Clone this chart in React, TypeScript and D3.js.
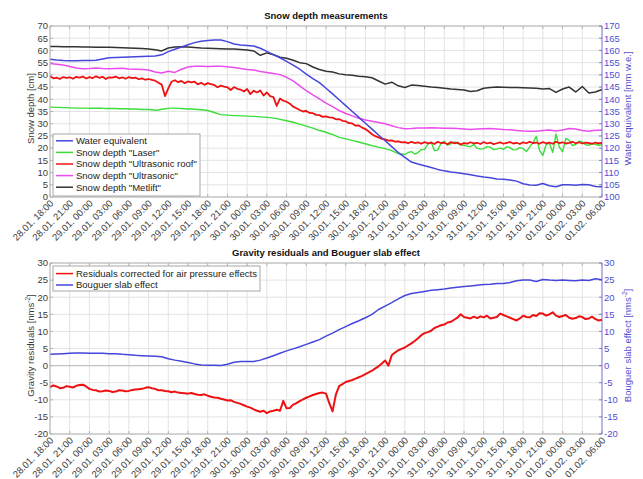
import React from 'react';
import * as d3 from 'd3';

// ---------- data ----------
const START = Date.UTC(2013, 0, 28, 18);
const END = Date.UTC(2013, 1, 1, 6);

const hoursHourly = d3.range(0, 85, 1);
const hoursHalf = d3.range(0, 169, 1).map((i) => i * 0.5);

// Water equivalent [mm w.e.] (right axis, hourly)
const waterEquivalent = [
  156.4, 156.1, 155.9, 155.8, 155.8, 155.9, 155.9, 156.0, 156.5, 157.0,
  157.1, 157.2, 157.3, 157.4, 157.5, 157.6, 157.7, 158.2, 159.5, 160.5,
  161.4, 162.3, 163.2, 163.8, 164.1, 164.3, 164.3, 163.6, 162.6, 162.2,
  162.0, 161.8, 160.9, 159.6, 158.3, 157.0, 155.5, 154.0, 152.3, 150.3,
  148.5, 146.8, 144.5, 142.2, 139.8, 137.4, 135.0, 132.6, 130.2, 127.8,
  125.4, 123.0, 120.6, 118.2, 116.2, 114.3, 113.5, 112.8, 112.1, 111.3,
  110.7, 110.2, 109.9, 109.5, 109.1, 108.6, 108.2, 107.9, 107.4, 107.3,
  107.0, 106.5, 105.4, 104.9, 104.8, 105.5, 104.6, 104.2, 105.0, 105.0,
  104.8, 105.1, 105.0, 104.3, 104.2,
];

// Snow depth "Laser" [cm] (half-hourly)
const depthLaser = [
  36.8, 36.8, 36.7, 36.7, 36.6, 36.6, 36.5, 36.5, 36.4, 36.4,
  36.4, 36.4, 36.3, 36.3, 36.3, 36.3, 36.3, 36.2, 36.2, 36.2,
  36.2, 36.1, 36.1, 36.1, 36.0, 36.0, 36.0, 35.9, 35.8, 35.8,
  35.8, 35.7, 35.5, 35.6, 35.9, 36.1, 36.3, 36.4, 36.4, 36.3,
  36.2, 36.1, 36.0, 36.0, 35.9, 35.8, 35.7, 35.6, 35.4, 35.0,
  34.6, 34.1, 33.7, 33.6, 33.5, 33.4, 33.3, 33.3, 33.2, 33.2,
  33.1, 33.0, 33.0, 32.9, 32.8, 32.7, 32.6, 32.5, 32.3, 32.1,
  31.8, 31.5, 31.2, 30.9, 30.6, 30.2, 29.8, 29.4, 29.0, 28.6,
  28.2, 27.7, 27.2, 26.9, 26.5, 26.0, 25.6, 25.0, 24.4, 24.1,
  23.8, 23.5, 23.2, 22.8, 22.5, 22.1, 21.8, 21.4, 21.0, 20.7,
  20.3, 20.1, 19.8, 19.4, 19.0, 18.4, 17.8, 17.6, 17.4, 18.2,
  18.6, 17.6, 18.2, 19.4, 19.5, 21.6, 22.5, 19.0, 19.2, 22.0,
  22.8, 21.2, 21.8, 22.6, 22.0, 21.3, 21.2, 20.8, 20.6, 21.4,
  20.0, 19.6, 19.8, 20.6, 20.4, 19.4, 19.6, 20.0, 19.5, 20.6,
  20.2, 19.3, 19.4, 20.2, 19.8, 18.6, 20.5, 22.2, 24.8, 19.0,
  17.0, 21.5, 22.0, 18.2, 25.8, 20.5, 18.5, 24.0, 23.2, 21.0,
  21.5, 22.8, 22.5, 21.4, 21.2, 21.8, 21.6, 21.2, 21.4,
];

// Snow depth "Ultrasonic roof" [cm] (half-hourly)
const depthUltrasonicRoof = [
  49.5, 48.6, 48.9, 48.3, 49.1, 48.8, 49.0, 48.4, 49.2, 48.9,
  49.3, 48.5, 49.1, 48.7, 49.4, 48.8, 49.2, 48.3, 49.0, 48.9,
  49.3, 48.6, 49.0, 48.4, 49.1, 48.7, 48.9, 48.2, 48.6, 48.0,
  48.3, 47.9, 47.6, 46.8, 46.0, 41.3, 44.5, 47.2, 47.8, 47.0,
  47.5, 46.6, 47.3, 46.9, 47.2, 46.1, 46.8, 45.9, 46.6, 46.2,
  45.8, 44.9, 45.6, 45.2, 44.9, 43.8, 45.0, 44.3, 44.0, 43.2,
  44.2, 42.1, 43.5, 42.8, 43.6, 41.5, 42.8, 41.3, 40.9, 37.3,
  40.3, 39.4, 39.0, 38.2, 37.0, 36.3, 35.6, 35.0, 35.2, 34.4,
  34.3, 33.6, 33.5, 32.8, 33.0, 32.6, 32.5, 31.8, 31.9, 31.2,
  31.0, 30.2, 30.1, 29.2, 29.3, 28.4, 27.8, 26.8, 25.7, 24.9,
  24.4, 23.8, 23.6, 23.1, 23.2, 22.7, 22.8, 22.4, 22.5, 22.0,
  22.6, 22.1, 22.4, 21.8, 22.5, 22.0, 22.3, 21.7, 22.6, 22.1,
  22.2, 21.6, 22.5, 22.0, 22.3, 21.5, 22.1, 21.8, 22.4, 21.9,
  22.2, 21.7, 22.5, 21.9, 22.3, 21.6, 22.0, 22.4, 21.8, 22.2,
  22.5, 21.9, 22.2, 21.7, 22.4, 22.0, 22.6, 22.1, 22.3, 21.8,
  22.5, 22.0, 22.3, 21.8, 22.6, 22.1, 22.4, 21.9, 22.2, 22.6,
  22.0, 22.4, 21.9, 22.3, 22.1, 21.8, 22.3, 22.0, 22.2,
];

// Snow depth "Ultrasonic" [cm] (hourly)
const depthUltrasonic = [
  54.6, 54.3, 54.0, 53.4, 52.8, 52.5, 52.6, 52.8, 52.6, 52.5,
  52.6, 52.7, 52.4, 52.3, 52.2, 52.0, 51.2, 50.8, 51.5, 51.0,
  52.3, 53.2, 53.5, 53.5, 53.4, 53.5, 53.5, 53.3, 53.0, 52.6,
  52.2, 52.0, 51.4, 51.0, 50.6, 50.1, 49.0, 47.5, 45.5, 43.5,
  41.8, 40.2, 38.4, 37.0, 35.4, 34.2, 33.2, 32.2, 31.5, 31.0,
  30.5, 30.0, 29.2, 28.4, 27.9, 28.0, 28.2, 28.2, 28.3, 28.2,
  28.1, 28.1, 28.0, 27.8, 27.6, 27.8, 27.9, 28.0, 27.8, 27.6,
  27.5, 27.2, 27.0, 26.9, 26.9, 27.2, 27.4, 27.0, 27.4, 28.0,
  27.8, 27.2, 26.9, 27.3, 27.4,
];

// Snow depth "Metlift" [cm] (hourly)
const depthMetlift = [
  61.6, 61.6, 61.5, 61.5, 61.5, 61.4, 61.4, 61.3, 61.3, 61.3,
  61.2, 61.1, 61.0, 60.9, 60.8, 60.6, 60.3, 59.8, 61.0, 61.4,
  61.5, 61.4, 61.2, 61.0, 60.9, 60.8, 60.7, 60.6, 60.6, 60.4,
  60.2, 59.8, 58.0, 59.0, 58.2, 57.2, 56.8, 56.0, 55.0, 54.6,
  53.2, 52.2, 51.5, 51.2, 50.4, 50.0, 49.8, 49.4, 49.2, 48.8,
  47.5, 46.2, 47.0, 45.5, 44.8, 45.8, 45.6, 45.3, 45.0, 44.8,
  44.5, 44.2, 44.0, 43.8, 43.2, 43.5, 44.5, 44.8, 45.0, 44.9,
  44.8, 44.8, 44.7, 44.6, 44.5, 44.2, 44.4, 42.8, 44.2, 45.0,
  43.0, 45.2, 42.6, 43.0, 44.0,
];

// Gravity residuals corrected for air pressure effects [nm/s^2] (half-hourly)
const gravityResiduals = [
  -6.3, -5.8, -6.1, -6.6, -6.5, -6.0, -6.2, -6.4, -5.9, -5.7,
  -5.6, -6.1, -6.8, -7.1, -7.2, -7.6, -7.5, -7.3, -7.4, -7.7,
  -7.6, -7.2, -7.3, -7.5, -7.4, -7.1, -7.0, -6.9, -6.8, -6.5,
  -6.3, -6.6, -6.8, -7.2, -7.2, -7.4, -7.5, -7.8, -7.6, -7.9,
  -8.0, -8.1, -8.2, -8.0, -8.3, -8.5, -8.6, -8.4, -8.8, -9.1,
  -9.3, -9.4, -9.7, -9.9, -10.2, -10.1, -10.6, -10.9, -11.2, -11.6,
  -12.0, -12.3, -12.8, -13.2, -13.5, -13.2, -13.9, -13.4, -13.2, -12.9,
  -13.2, -10.3, -12.5, -12.4, -11.4, -11.0, -10.4, -9.9, -9.4, -9.0,
  -8.6, -8.3, -8.0, -7.9, -8.2, -11.0, -13.4, -8.5, -6.0, -5.4,
  -4.8, -4.5, -4.2, -3.8, -3.4, -3.0, -2.5, -2.0, -1.5, -0.8,
  -0.2, 0.6, 1.5, 0.0, 3.0, 3.8, 4.5, 4.9, 5.3, 5.9,
  6.5, 7.2, 8.0, 8.9, 9.5, 9.8, 10.2, 11.0, 11.4, 11.8,
  12.0, 12.6, 12.8, 13.4, 14.0, 15.0, 14.2, 14.0, 13.8, 14.3,
  13.9, 14.4, 14.1, 14.6, 13.8, 14.0, 14.2, 15.2, 14.8, 14.4,
  14.0, 13.6, 13.2, 13.8, 14.6, 14.2, 14.1, 14.8, 14.5, 15.3,
  15.2, 14.6, 15.0, 15.6, 14.6, 14.2, 14.5, 14.8, 14.0, 13.7,
  13.9, 14.4, 14.2, 13.6, 13.8, 14.3, 13.6, 13.2, 13.4,
];

// Bouguer slab effect [nm/s^2] (hourly)
const bouguerEffect = [
  3.3, 3.4, 3.5, 3.6, 3.7, 3.7, 3.6, 3.6, 3.6, 3.5,
  3.5, 3.3, 3.2, 3.0, 2.9, 2.8, 2.7, 2.6, 2.0, 1.6,
  1.3, 0.9, 0.5, 0.2, 0.1, 0.1, 0.0, 0.4, 1.0, 1.2,
  1.2, 1.2, 1.6, 2.2, 2.9, 3.6, 4.3, 4.9, 5.5, 6.2,
  6.9, 7.6, 8.6, 9.5, 10.5, 11.4, 12.3, 13.1, 14.0, 15.0,
  16.4, 17.4, 18.4, 19.5, 20.5, 21.1, 21.4, 21.7, 22.0, 22.2,
  22.4, 22.7, 22.9, 23.1, 23.3, 23.5, 23.7, 23.8, 24.0, 24.0,
  24.3, 24.8, 25.0, 25.0, 24.6, 25.2, 25.0, 24.9, 25.0, 24.9,
  24.8, 25.0, 24.9, 25.4, 25.1,
];

const topLegendLabels = [
  'Water equivalent',
  'Snow depth "Laser"',
  'Snow depth "Ultrasonic roof"',
  'Snow depth "Ultrasonic"',
  'Snow depth "Metlift"',
];
const bottomLegendLabels = ['Residuals corrected for air pressure effects', 'Bouguer slab effect'];

// ---------- styles ----------
const FONT = '"Liberation Sans", Arial, sans-serif';
const C_BLUE = '#4646dc';
const C_GREEN = '#3ade3a';
const C_RED = '#ee1111';
const C_MAGENTA = '#ec4cec';
const C_BLACK = '#333333';
const C_AXISBLUE = '#5050d0';
const C_GRID = '#e3e3e3';
const C_FRAME = '#b4b4b4';
const C_TEXT = '#3a3a3a';

const X0 = 50;
const X1 = 602;
const TOP = { y0: 26, y1: 197 };
const BOT = { y0: 263, y1: 434 };

const xScale = d3.scaleUtc().domain([START, END]).range([X0, X1]);
const xTicks = d3.utcHour.every(3)!.range(new Date(START), new Date(END + 1));
const fmt = d3.utcFormat('%d.%m. %H:%M');
const tx = (h: number) => xScale(START + h * 3600e3);

type Series = { hours: number[]; values: number[]; color: string; width: number };

function Panel(props: {
  y0: number;
  y1: number;
  left: [number, number];
  right: [number, number];
  title: string;
  leftLabel: React.ReactNode;
  rightLabel: React.ReactNode;
  leftSeries: Series[];
  rightSeries: Series[];
  zeroLine?: boolean;
}) {
  const { y0, y1 } = props;
  const yL = d3.scaleLinear().domain(props.left).range([y1, y0]);
  const yR = d3.scaleLinear().domain(props.right).range([y1, y0]);
  const lt = d3.range(props.left[0], props.left[1] + 0.01, 5);
  const rt = d3.range(props.right[0], props.right[1] + 0.01, 5);
  const mkLine = (s: Series, y: d3.ScaleLinear<number, number>) =>
    d3
      .line<number>()
      .x((_, i) => tx(s.hours[i]))
      .y((v) => y(v))(s.values) || '';
  const cy = (y0 + y1) / 2 - 3;
  return (
    <g>
      <text x={(X0 + X1) / 2} y={y0 - 7.5} textAnchor="middle" fontWeight="bold" fontSize={9.5} fill="#111">
        {props.title}
      </text>
      {/* grid */}
      {xTicks.map((d, i) => (
        <line key={'gx' + i} x1={xScale(d)} x2={xScale(d)} y1={y0} y2={y1} stroke={C_GRID} strokeWidth={1} />
      ))}
      {lt.map((v, i) => (
        <line key={'gy' + i} x1={X0} x2={X1} y1={yL(v)} y2={yL(v)} stroke={C_GRID} strokeWidth={1} />
      ))}
      {props.zeroLine && <line x1={X0} x2={X1} y1={yL(0)} y2={yL(0)} stroke="#c4c4c4" strokeWidth={1.2} />}
      {/* tick marks */}
      {xTicks.map((d, i) => (
        <g key={'tm' + i}>
          <line x1={xScale(d)} x2={xScale(d)} y1={y1} y2={y1 - 3} stroke={C_FRAME} />
          <line x1={xScale(d)} x2={xScale(d)} y1={y0} y2={y0 + 3} stroke={C_FRAME} />
        </g>
      ))}
      {/* series */}
      {props.leftSeries.map((s, i) => (
        <path key={'ls' + i} d={mkLine(s, yL)} fill="none" stroke={s.color} strokeWidth={s.width} strokeLinejoin="round" />
      ))}
      {props.rightSeries.map((s, i) => (
        <path key={'rs' + i} d={mkLine(s, yR)} fill="none" stroke={s.color} strokeWidth={s.width} strokeLinejoin="round" />
      ))}
      {/* frame */}
      <line x1={X0} x2={X1} y1={y0} y2={y0} stroke={C_FRAME} />
      <line x1={X0} x2={X1} y1={y1} y2={y1} stroke={C_FRAME} />
      <line x1={X0} x2={X0} y1={y0} y2={y1} stroke={C_FRAME} />
      <line x1={X1} x2={X1} y1={y0} y2={y1} stroke={C_AXISBLUE} strokeOpacity={0.7} />
      {/* left ticks */}
      {lt.map((v, i) => (
        <g key={'lt' + i}>
          <line x1={X0} x2={X0 + 3} y1={yL(v)} y2={yL(v)} stroke={C_FRAME} />
          <text x={X0 - 2} y={yL(v)} dy="0.35em" textAnchor="end" fontSize={9.5} fill={C_TEXT}>
            {v}
          </text>
        </g>
      ))}
      {rt.map((v, i) => (
        <g key={'rt' + i}>
          <line x1={X1} x2={X1 - 3} y1={yR(v)} y2={yR(v)} stroke={C_AXISBLUE} strokeOpacity={0.7} />
          <text x={X1 + 2} y={yR(v)} dy="0.35em" textAnchor="start" fontSize={9.5} fill={C_AXISBLUE}>
            {v}
          </text>
        </g>
      ))}
      {/* x tick labels */}
      {xTicks.map((d, i) => (
        <text
          key={'xl' + i}
          transform={`translate(${xScale(d) + 4},${y1 + 7}) rotate(-45)`}
          textAnchor="end"
          fontSize={9.5}
          fill={C_TEXT}
        >
          {fmt(d)}
        </text>
      ))}
      {/* axis labels */}
      <text transform={`translate(34,${cy}) rotate(-90)`} textAnchor="middle" fontSize={9.5} fill={C_TEXT}>
        {props.leftLabel}
      </text>
      <text transform={`translate(631,${cy}) rotate(-90)`} textAnchor="middle" fontSize={9.5} fill={C_AXISBLUE}>
        {props.rightLabel}
      </text>
    </g>
  );
}

function Legend(props: { x: number; y: number; w: number; h: number; labels: string[]; colors: string[]; first: number; step: number }) {
  return (
    <g>
      <rect x={props.x} y={props.y} width={props.w} height={props.h} fill="#fff" stroke="#a8a8a8" strokeWidth={1} />
      {props.labels.map((l, i) => {
        const yy = props.first + i * props.step;
        return (
          <g key={i}>
            <line x1={props.x + 3} x2={props.x + 20} y1={yy} y2={yy} stroke={props.colors[i]} strokeWidth={1.5} />
            <text x={props.x + 23} y={yy} dy="0.35em" fontSize={9.5} fill="#222">
              {l}
            </text>
          </g>
        );
      })}
    </g>
  );
}

export default function App() {
  const nms = (
    <>
      {'[nms'}
      <tspan fontSize={6.5} dy={-4}>
        -2
      </tspan>
      <tspan dy={4}>]</tspan>
    </>
  );
  return (
    <svg width={643} height={479} style={{ position: 'absolute', left: 0, top: 0, fontFamily: FONT, background: '#fff' }}>
      <rect x={0} y={0} width={643} height={479} fill="#fff" />
      <Panel
        y0={TOP.y0}
        y1={TOP.y1}
        left={[0, 70]}
        right={[100, 170]}
        title="Snow depth measurements"
        leftLabel="Snow depth [cm]"
        rightLabel="Water equivalent [mm w.e.]"
        leftSeries={[
          { hours: hoursHalf, values: depthLaser, color: C_GREEN, width: 1.4 },
          { hours: hoursHalf, values: depthUltrasonicRoof, color: C_RED, width: 1.8 },
          { hours: hoursHourly, values: depthUltrasonic, color: C_MAGENTA, width: 1.5 },
          { hours: hoursHourly, values: depthMetlift, color: C_BLACK, width: 1.5 },
        ]}
        rightSeries={[{ hours: hoursHourly, values: waterEquivalent, color: C_BLUE, width: 1.5 }]}
      />
      <Legend
        x={53}
        y={134}
        w={147}
        h={62}
        labels={topLegendLabels}
        colors={[C_BLUE, C_GREEN, C_RED, C_MAGENTA, C_BLACK]}
        first={140.8}
        step={11.6}
      />
      <Panel
        y0={BOT.y0}
        y1={BOT.y1}
        left={[-20, 30]}
        right={[-20, 30]}
        title="Gravity residuals and Bouguer slab effect"
        leftLabel={<>{'Gravity residuals '}{nms}</>}
        rightLabel={<>{'Bouguer slab effect '}{nms}</>}
        leftSeries={[{ hours: hoursHalf, values: gravityResiduals, color: C_RED, width: 2 }]}
        rightSeries={[{ hours: hoursHourly, values: bouguerEffect, color: C_BLUE, width: 1.5 }]}
        zeroLine
      />
      <Legend
        x={53}
        y={266}
        w={207}
        h={25}
        labels={bottomLegendLabels}
        colors={[C_RED, C_BLUE]}
        first={273.6}
        step={11.4}
      />
    </svg>
  );
}
